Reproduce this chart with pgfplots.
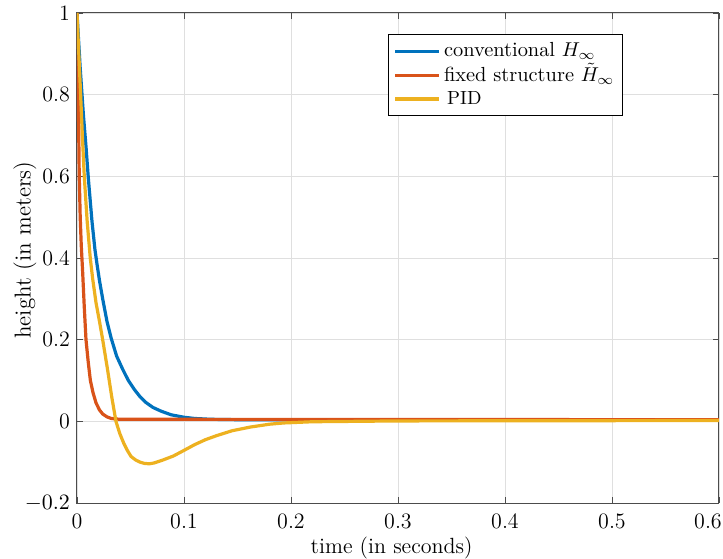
\documentclass[border=0pt]{standalone}
\usepackage{pgfplots}
\pgfplotsset{compat=1.18}
\definecolor{mblue}{rgb}{0,0.447,0.741}
\definecolor{morange}{rgb}{0.850,0.325,0.098}
\definecolor{myellow}{rgb}{0.929,0.694,0.125}
\begin{document}
\begin{tikzpicture}
\path[use as bounding box] (-38.5pt,-27.5pt) rectangle (323pt,251.5pt);
\begin{axis}[
  at={(0pt,0pt)}, anchor=south west,
  scale only axis,
  width=321pt, height=245pt,
  xmin=0, xmax=0.6, ymin=-0.2, ymax=1,
  xtick={0,0.1,...,0.6}, ytick={-0.2,0,...,1},
  xticklabels={0,0.1,0.2,0.3,0.4,0.5,\hspace*{-11pt}0.6},
  yticklabels={$-0.2$,0,0.2,0.4,0.6,0.8,1},
  tick label style={font=\fontsize{11}{13}\selectfont},
  xticklabel style={yshift=-2pt},
  grid=major,
  major grid style={gray!25, line width=0.4pt},
  axis line style={black!70, line width=0.5pt},
  tick style={black!70, line width=0.4pt},
  major tick length=3pt,
  tick align=inside,
  xlabel={time (in seconds)},
  ylabel={height (in meters)},
  xlabel style={at={(axis description cs:0.49,-0.092)}, anchor=center, font=\fontsize{11}{13}\selectfont},
  ylabel style={at={(axis description cs:-0.081,0.516)}, anchor=center, rotate=0, font=\fontsize{11.5}{13}\selectfont},
  legend style={at={(0.4844,0.957)}, anchor=north west, draw=black, line width=0.5pt,
    font=\fontsize{10.2}{12}\selectfont, row sep=0.5pt, inner sep=2.5pt,
    nodes={inner sep=1.5pt}},
  legend cell align=left,
  legend image code/.code={\draw[#1,line width=1.6pt] (0.05cm,0cm) -- (0.83cm,0cm);},
  every axis plot/.append style={line width=1.6pt, line join=round},
]
\addplot[mblue] coordinates {
(0,1) (0.003,0.865) (0.006,0.75) (0.0085,0.67) (0.0106,0.595) (0.014,0.49) (0.0168,0.42)
(0.0187,0.385) (0.021,0.345) (0.024,0.30) (0.028,0.245) (0.0318,0.205) (0.037,0.16)
(0.0426,0.128) (0.048,0.10) (0.0536,0.078) (0.059,0.06) (0.0645,0.046) (0.071,0.034)
(0.0785,0.025) (0.088,0.016) (0.100,0.010) (0.110,0.007) (0.125,0.005) (0.15,0.004)
(0.6,0.004)};
\addlegendentry{conventional \smash{$H_\infty$}}
\addplot[morange] coordinates {
(0,1) (0.0012,0.80) (0.0021,0.60) (0.003,0.50) (0.004,0.43) (0.0052,0.37) (0.0068,0.28)
(0.0084,0.20) (0.0105,0.145) (0.0125,0.10) (0.015,0.07) (0.0178,0.045) (0.021,0.028)
(0.024,0.018) (0.028,0.011) (0.032,0.007) (0.04,0.005) (0.6,0.004)};
\addlegendentry{fixed structure \smash{$\tilde{H}_\infty$}}
\addplot[myellow] coordinates {
(0,1) (0.0017,0.90) (0.0034,0.80) (0.005,0.70) (0.0068,0.60) (0.0095,0.49) (0.0124,0.40)
(0.0146,0.35) (0.0178,0.29) (0.021,0.245) (0.024,0.20) (0.0286,0.126) (0.0324,0.061)
(0.0364,0.0) (0.040,-0.03) (0.0436,-0.053) (0.047,-0.071) (0.0505,-0.086) (0.055,-0.095)
(0.059,-0.100) (0.063,-0.103) (0.0675,-0.104) (0.072,-0.102) (0.08,-0.095) (0.09,-0.085)
(0.0994,-0.072) (0.11,-0.057) (0.12,-0.045) (0.1305,-0.035) (0.145,-0.023) (0.162,-0.014)
(0.18,-0.007) (0.193,-0.004) (0.22,-0.001) (0.3,0.001) (0.6,0.002)};
\addlegendentry{\fontsize{9.5}{11}\selectfont\,PID}
\end{axis}
\end{tikzpicture}
\end{document}
